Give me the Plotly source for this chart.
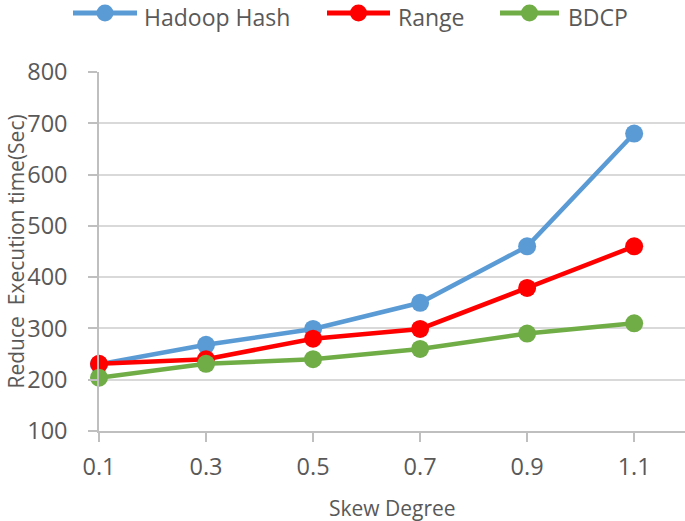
import plotly.graph_objects as go

skew = [0.1, 0.3, 0.5, 0.7, 0.9, 1.1]
hadoop_hash = [230, 268, 299, 350, 460, 680]
range_vals = [231, 240, 280, 299, 379, 460]
bdcp = [204, 231, 240, 260, 290, 310]
x_ticks = [0.1, 0.3, 0.5, 0.7, 0.9, 1.1]
y_ticks = [100, 200, 300, 400, 500, 600, 700, 800]
series_names = ["Hadoop Hash", "Range", "BDCP"]
series_colors = ["#5b9bd5", "#ff0000", "#70ad47"]

W, H = 685, 521
L, R, T, B = 99, 0, 72, 90
PW, PH = W - L - R, H - T - B


def px_x(x):
    return (x - L) / PW


def px_y(y):
    return (H - B - y) / PH


fig = go.Figure()
for name, vals, color in zip(series_names, [hadoop_hash, range_vals, bdcp], series_colors):
    fig.add_trace(go.Scatter(
        x=skew, y=vals, name=name, mode="lines+markers",
        line=dict(color=color, width=4.5),
        marker=dict(color=color, size=18),
        cliponaxis=False, showlegend=False, hoverinfo="skip",
    ))

# custom legend (Excel-style long line symbols)
legend_layout = [(73, 137, 143), (327, 390, 397), (500, 559, 567)]
ly = 13
shapes = []
annotations = []
for (x0, x1, tx), name, color in zip(legend_layout, series_names, series_colors):
    shapes.append(dict(type="line", xref="paper", yref="paper",
                       x0=px_x(x0), x1=px_x(x1), y0=px_y(ly), y1=px_y(ly),
                       line=dict(color=color, width=5)))
    shapes.append(dict(type="circle", xref="paper", yref="paper",
                       xsizemode="pixel", ysizemode="pixel",
                       xanchor=px_x((x0 + x1) / 2), yanchor=px_y(ly),
                       x0=-8.5, x1=8.5, y0=-8.5, y1=8.5,
                       fillcolor=color, line=dict(width=0)))
    annotations.append(dict(text=name, xref="paper", yref="paper",
                            x=px_x(tx), y=px_y(0), xanchor="left", yanchor="top",
                            borderpad=0,
                            showarrow=False, font=dict(size=23, color="#595959")))

annotations.append(dict(text="Skew Degree", xref="paper", yref="paper",
                        x=0.5, y=px_y(508), xanchor="center", yanchor="middle",
                        showarrow=False, font=dict(size=21, color="#595959")))
annotations.append(dict(text="Reduce  Execution time(Sec)", xref="paper", yref="paper",
                        x=px_x(0), y=0.5, xanchor="left", yanchor="middle",
                        textangle=-90, showarrow=False, borderpad=0,
                        font=dict(size=21, color="#595959")))

fig.update_layout(
    width=W, height=H,
    margin=dict(l=L, r=R, t=T, b=B, autoexpand=False),
    paper_bgcolor="white", plot_bgcolor="white",
    font=dict(family="Open Sans, Liberation Sans, sans-serif", color="#595959"),
    showlegend=False,
    shapes=shapes,
    annotations=annotations,
    xaxis=dict(range=[0.1, 1.195], tickvals=x_ticks,
               ticktext=[str(v) for v in x_ticks],
               showgrid=False, showline=True, linecolor="#bfbfbf", linewidth=1.5,
               ticks="outside", ticklen=9, tickcolor="#bfbfbf", tickwidth=1.5,
               ticklabelstandoff=5, automargin=False,
               tickfont=dict(size=23.5, color="#595959"), zeroline=False),
    yaxis=dict(range=[100, 800], tickvals=y_ticks,
               showgrid=True, gridcolor="#d9d9d9", gridwidth=1.5,
               showline=True, linecolor="#bfbfbf", linewidth=1.5,
               ticks="outside", ticklen=9, tickcolor="#bfbfbf", tickwidth=1.5,
               ticklabelstandoff=16, automargin=False,
               tickfont=dict(size=23.5, color="#595959"), zeroline=False),
)

fig.write_html(
    "out.html",
    config={"displayModeBar": False},
    post_script="document.body.style.margin='0';document.body.style.overflow='hidden';",
)
